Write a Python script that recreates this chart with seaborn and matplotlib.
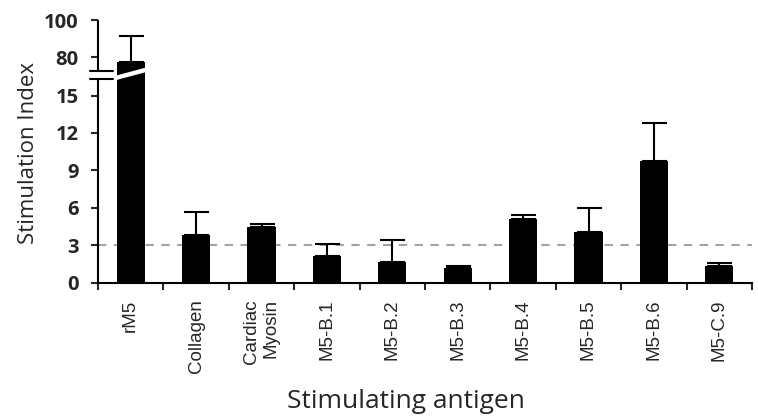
import numpy as np
import pandas as pd
import matplotlib
matplotlib.use("Agg")
import matplotlib.pyplot as plt
import matplotlib.transforms as mtrans
import seaborn as sns

# ---- data ----
antigens = ["rM5", "Collagen", "Cardiac\nMyosin", "M5-B.1", "M5-B.2", "M5-B.3",
            "M5-B.4", "M5-B.5", "M5-B.6", "M5-C.9"]
stim_index = [77.3, 3.8, 4.5, 2.1, 1.65, 1.18, 5.1, 4.1, 9.75, 1.34]
stim_err = [14.1, 1.85, 0.2, 1.04, 1.8, 0.13, 0.32, 1.92, 3.08, 0.26]
threshold = 3
ytick_vals = [0, 3, 6, 9, 12, 15, 80, 100]
ytick_labels = ["0", "3", "6", "9", "12", "15", "80", "100"]

df = pd.DataFrame({"antigen": antigens, "value": stim_index})

# ---- broken y scale (piecewise linear) ----
BRK_LO, BRK_HI = 16.3, 72.8
data_pts = np.array([0.0, BRK_LO, BRK_HI, 100.0])
disp_pts = np.array([0.0, 203.4, 212.0, 262.7])


def _pw(x, xp, fp):
    x = np.asarray(x, dtype=float)
    out = np.interp(x, xp, fp)
    s0 = (fp[1] - fp[0]) / (xp[1] - xp[0])
    s1 = (fp[-1] - fp[-2]) / (xp[-1] - xp[-2])
    out = np.where(x < xp[0], fp[0] + (x - xp[0]) * s0, out)
    out = np.where(x > xp[-1], fp[-1] + (x - xp[-1]) * s1, out)
    return out


def fwd(y):
    return _pw(y, data_pts, disp_pts)


def inv(t):
    return _pw(t, disp_pts, data_pts)


# ---- figure ----
W, H = 758, 416
sns.set_style("white")
fig = plt.figure(figsize=(W / 100, H / 100), dpi=100)
ax = fig.add_axes([98 / W, 1 - 282.7 / H, 654 / W, 262.7 / H])

ax.axhline(threshold, color="#a3a3a3", lw=1.5, ls=(0, (4, 3.6)), zorder=0)

bar_w = 0.43
sns.barplot(data=df, x="antigen", y="value", color="black", saturation=1,
            width=bar_w, errorbar=None, ax=ax, zorder=2,
            edgecolor="black", linewidth=0)
pos = np.arange(len(antigens))
ax.errorbar(pos, stim_index, yerr=[np.zeros(len(pos)), stim_err], fmt="none",
            ecolor="black", elinewidth=1.5, capsize=9, capthick=1.5, zorder=1)

ax.set_yscale("function", functions=(fwd, inv))
ax.set_ylim(0, 100)
ax.set_xlim(-0.5, len(antigens) - 0.5)

# white slash across the broken bar
xl, xr = pos[0] - bar_w / 2 - 0.02, pos[0] + bar_w / 2 + 0.02
slash = [(xl, inv(202.4)), (xr, inv(210.6)), (xr, inv(215.2)), (xl, inv(206.9))]
ax.add_patch(plt.Polygon([(x, float(y)) for x, y in slash], closed=True,
                         facecolor="white", edgecolor="none", zorder=3))

# spines
for s in ["top", "right"]:
    ax.spines[s].set_visible(False)
for s in ["left", "bottom"]:
    ax.spines[s].set_linewidth(1.5)
    ax.spines[s].set_color("black")
ax.spines["left"].set_bounds(0, BRK_LO)
blend = mtrans.blended_transform_factory(ax.transAxes, ax.transData)
ax.plot([0, 0], [BRK_HI, 100], color="black", lw=1.5, transform=blend,
        clip_on=False, solid_capstyle="butt")
for yb in (BRK_LO, BRK_HI):
    ax.plot([-0.012, 0.023], [yb, yb], color="black", lw=1.5, transform=blend,
            clip_on=False)

# y ticks
ax.set_yticks(ytick_vals)
ax.set_yticklabels(ytick_labels, fontfamily="Open Sans", fontweight="bold",
                   fontsize=14.5)
ax.tick_params(axis="y", direction="out", length=5, width=1.5, pad=9, left=True)

# x ticks
ax.set_xticks(pos)
ax.set_xticklabels(antigens, rotation=90, fontfamily=["Liberation Sans"],
                   fontsize=13.5, ma="right")
ax.set_xticks(np.arange(len(antigens) + 1) - 0.5, minor=True)
ax.tick_params(axis="x", which="major", length=0, pad=12)
ax.tick_params(axis="x", which="minor", direction="out", length=5, width=1.5,
               bottom=True)

ax.set_ylabel("Stimulation Index", fontfamily="Open Sans", fontsize=16)
ax.yaxis.set_label_coords(-0.09, 0.494)
ax.set_xlabel("Stimulating antigen", fontfamily="Open Sans", fontsize=19)
ax.xaxis.set_label_coords(0.471, -0.405)

fig.savefig("out.png", dpi=100)
